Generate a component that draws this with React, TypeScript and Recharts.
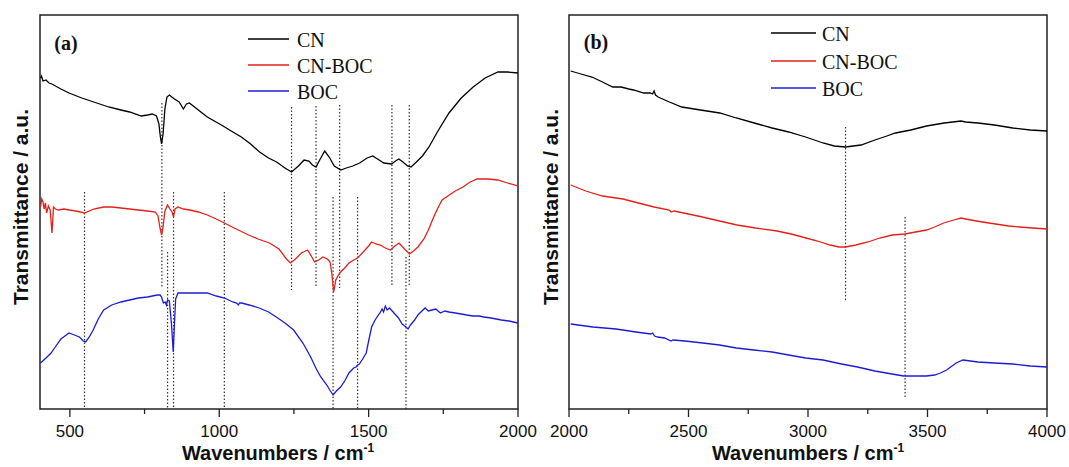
import React from "react";
import { LineChart, Line, XAxis, YAxis, ReferenceArea, ReferenceLine } from "recharts";

// ---------- Panel (a): 400-2000 cm-1, offset transmittance (a.u.) ----------
const CN_A: [number, number][] = [
  [402, 331], [405, 333], [410, 328], [420, 329], [430, 326], [440, 325], [470, 320], [497, 316], [540, 311], [590, 306],
  [630, 302], [671, 299], [700, 297], [739, 293], [760, 294], [776, 295], [790, 293], [798, 285],
  [803, 272], [807, 265], [812, 275], [818, 300], [825, 312], [833, 314], [850, 310], [866, 307],
  [880, 300], [890, 305], [900, 306], [930, 299], [960, 292], [1007, 284], [1040, 278], [1074, 272],
  [1105, 265], [1135, 257], [1165, 251], [1192, 247], [1220, 241], [1242, 237], [1265, 243], [1284, 249],
  [1300, 248], [1312, 244], [1324, 242], [1338, 250], [1353, 258], [1368, 252], [1385, 243], [1407, 239],
  [1425, 241], [1447, 243], [1470, 246], [1495, 251], [1514, 253], [1535, 249], [1551, 246], [1577, 245],
  [1590, 248], [1601, 250], [1615, 247], [1630, 243], [1642, 242], [1660, 247], [1680, 253], [1702, 262],
  [1730, 277], [1769, 296], [1810, 311], [1850, 322], [1890, 331], [1933, 337], [1965, 337], [2000, 336],
];
const CNBOC_A: [number, number][] = [
  [402, 202], [406, 210], [410, 207], [414, 200], [418, 206], [422, 196], [428, 203], [434, 199],
  [438, 184], [440, 176], [443, 190], [445, 202], [452, 200], [462, 199], [480, 200], [497, 199],
  [520, 198], [549, 196], [580, 200], [613, 202], [640, 202], [671, 201], [700, 200], [729, 199],
  [760, 198], [786, 197], [795, 193], [801, 182], [807, 174], [812, 182], [818, 198], [827, 204],
  [835, 200], [842, 197], [847, 192], [852, 200], [862, 202], [880, 200], [902, 199], [930, 197],
  [960, 194], [990, 190], [1017, 186], [1050, 181], [1098, 174], [1130, 170], [1168, 166], [1200, 160],
  [1225, 150], [1238, 146], [1255, 150], [1275, 156], [1296, 159], [1310, 152], [1319, 147], [1333, 149],
  [1347, 152], [1362, 150], [1371, 147], [1377, 135], [1383, 117], [1390, 129], [1403, 136], [1420, 141],
  [1434, 146], [1450, 149], [1463, 151], [1485, 158], [1500, 163], [1510, 167], [1525, 165], [1539, 164],
  [1556, 161], [1573, 159], [1588, 163], [1602, 166], [1620, 160], [1637, 155], [1650, 158], [1665, 162],
  [1685, 170], [1700, 179], [1715, 190], [1730, 200], [1746, 209], [1770, 214], [1790, 218], [1816, 222],
  [1840, 227], [1863, 230], [1900, 230], [1932, 229], [1965, 226], [2000, 223],
];
const BOC_A: [number, number][] = [
  [402, 46], [420, 51], [437, 56], [451, 62], [470, 70], [497, 76], [515, 74], [532, 72],
  [545, 68], [553, 67], [565, 72], [578, 79], [595, 90], [613, 99], [640, 104], [671, 107],
  [700, 109], [729, 111], [760, 112], [792, 114], [802, 114], [807, 112], [813, 106], [819, 107],
  [823, 104], [827, 109], [833, 108], [840, 85], [846, 57], [850, 85], [854, 110], [862, 116],
  [900, 116], [930, 116], [960, 116], [990, 113], [1018, 111], [1045, 107], [1058, 106], [1064, 104],
  [1068, 106], [1075, 106], [1100, 104], [1134, 101], [1165, 97], [1191, 92], [1220, 86], [1249, 79],
  [1280, 66], [1306, 52], [1325, 40], [1340, 32], [1360, 24], [1372, 18], [1381, 14], [1392, 18],
  [1406, 22], [1420, 28], [1434, 36], [1450, 41], [1458, 42], [1463, 44], [1469, 45], [1480, 50],
  [1492, 56], [1500, 68], [1510, 82], [1520, 88], [1530, 93], [1538, 96], [1545, 100], [1550, 97],
  [1556, 103], [1562, 99], [1570, 101], [1585, 96], [1600, 91], [1612, 85], [1625, 82], [1632, 80],
  [1640, 84], [1654, 89], [1665, 94], [1675, 97], [1689, 101], [1700, 98], [1712, 99], [1725, 100],
  [1740, 96], [1755, 98], [1769, 97], [1790, 96], [1810, 95], [1828, 94], [1850, 93], [1870, 93],
  [1886, 92], [1910, 91], [1944, 89], [1970, 88], [2000, 86],
];

// ---------- Panel (b): 2000-4000 cm-1 ----------
const CN_B: [number, number][] = [
  [2007, 338], [2050, 335], [2096, 332], [2140, 327], [2183, 322], [2218, 322], [2250, 320], [2270, 319],
  [2313, 316], [2340, 316], [2350, 315], [2356, 318], [2362, 314], [2373, 312], [2420, 307], [2472, 302],
  [2550, 299], [2631, 296], [2700, 291], [2775, 286], [2850, 281], [2919, 277], [2990, 272], [3063, 266],
  [3110, 263], [3157, 262], [3222, 264], [3280, 269], [3330, 273], [3366, 276], [3430, 279], [3496, 283],
  [3570, 286], [3640, 288], [3660, 287], [3711, 286], [3780, 284], [3857, 281], [3930, 279], [4000, 278],
];
const CNBOC_B: [number, number][] = [
  [2007, 224], [2070, 218], [2140, 213], [2226, 210], [2290, 206], [2356, 202], [2420, 199], [2427, 197],
  [2440, 198], [2500, 195], [2558, 192], [2630, 188], [2703, 184], [2780, 181], [2870, 178], [2930, 175],
  [2992, 171], [3040, 168], [3092, 164], [3130, 162], [3157, 162], [3200, 164], [3251, 167], [3300, 171],
  [3352, 174], [3406, 175], [3450, 177], [3496, 179], [3530, 182], [3568, 186], [3610, 189], [3640, 191],
  [3660, 190], [3682, 189], [3730, 187], [3785, 185], [3840, 183], [3886, 182], [3940, 181], [4000, 180],
];
const BOC_B: [number, number][] = [
  [2007, 85], [2100, 82], [2197, 80], [2280, 77], [2342, 75], [2350, 76], [2358, 73], [2370, 72],
  [2400, 71], [2427, 68], [2435, 69], [2485, 68], [2560, 66], [2630, 64], [2700, 61], [2774, 59],
  [2850, 57], [2919, 54], [2990, 51], [3063, 49], [3140, 45], [3207, 42], [3280, 38], [3351, 35],
  [3400, 33], [3423, 33], [3460, 33], [3496, 33], [3530, 34], [3554, 36], [3580, 39], [3597, 42],
  [3620, 46], [3648, 49], [3680, 48], [3711, 47], [3780, 46], [3857, 45], [3930, 43], [4000, 42],
];

// Dotted marker lines: [wavenumber, top, bottom]
const MARKS_A: [number, number, number][] = [
  [549, 217, 0], [808, 306, 122], [827, 157, 0], [847, 217, 0], [1017, 217, 0],
  [1242, 302, 119], [1324, 303, 121], [1381, 212, 0], [1403, 304, 121], [1463, 212, 0],
  [1578, 304, 122], [1636, 304, 122], [1625, 152, 0],
];
const MARKS_B: [number, number, number][] = [
  [3157, 282, 109], [3406, 192, 12],
];

const TICKS_A = [500, 750, 1000, 1250, 1500, 1750, 2000];
const TICKS_B = [2000, 2250, 2500, 2750, 3000, 3250, 3500, 3750, 4000];
const SERIES_NAMES = ["CN", "CN-BOC", "BOC"];
const SERIES_COLORS = ["#000000", "#e3201b", "#1c1cd4"];

const toPts = (arr: [number, number][]) => arr.map(([x, y]) => ({ x, y }));

const AxisTick = (props: any) => {
  const { x, y, payload } = props;
  const major = payload.value % 500 === 0;
  return (
    <g>
      <line x1={x} x2={x} y1={y} y2={y + (major ? 8 : 5)} stroke="#222" strokeWidth={1.3} />
      {major && (
        <text x={x} y={y + 22} textAnchor="middle" dominantBaseline="central" fontSize={17}
          fontFamily="'Liberation Sans', Arial, sans-serif" fill="#111">
          {payload.value}
        </text>
      )}
    </g>
  );
};

const Panel = ({ series, marks, domain, ticks, left }: any) => (
  <div style={{ position: "absolute", left, top: 0 }}>
    <LineChart width={540} height={467} margin={{ top: 15, right: 22, bottom: 28, left: 40 }}>
      <XAxis dataKey="x" type="number" domain={domain} ticks={ticks} interval={0} allowDataOverflow
        axisLine={false} tickLine={false} tickSize={0} tickMargin={0} height={30} tick={<AxisTick />} />
      <YAxis type="number" domain={[0, 394]} hide allowDataOverflow />
      <ReferenceArea x1={domain[0]} x2={domain[1]} y1={0} y2={394} fill="none" stroke="#222"
        strokeWidth={1.5} ifOverflow="visible" />
      {marks.map(([wx, top, bot]: [number, number, number], i: number) => (
        <ReferenceLine key={i} segment={[{ x: wx, y: top }, { x: wx, y: bot }]} stroke="#333"
          strokeWidth={1.2} strokeDasharray="1.5 2" ifOverflow="visible" />
      ))}
      {series.map((s: [number, number][], i: number) => (
        <Line key={i} data={toPts(s)} dataKey="y" type="linear" stroke={SERIES_COLORS[i]}
          strokeWidth={1.3} dot={false} activeDot={false} isAnimationActive={false} />
      ))}
    </LineChart>
  </div>
);

const LegendBox = ({ x0, x1, tx, rows }: any) => (
  <svg width={1069} height={467} style={{ position: "absolute", left: 0, top: 0, pointerEvents: "none" }}>
    {SERIES_NAMES.map((n, i) => (
      <g key={n}>
        <line x1={x0} x2={x1} y1={rows[i] - 1} y2={rows[i] - 1} stroke={SERIES_COLORS[i]} strokeWidth={1.3} />
        <text x={tx} y={rows[i]} dominantBaseline="central" fontSize={20}
          fontFamily="'Liberation Serif', 'Times New Roman', serif" fill="#111">{n}</text>
      </g>
    ))}
  </svg>
);

const TextAt = ({ x, y, children, rotate, style }: any) => (
  <div style={{
    position: "absolute", left: x, top: y, whiteSpace: "nowrap",
    transform: `translate(-50%, -50%)${rotate ? " rotate(-90deg)" : ""}`, ...style,
  }}>{children}</div>
);

const titleStyle = { fontFamily: "'Liberation Sans', Arial, sans-serif", fontWeight: 700, fontSize: 20, color: "#111" };
const panelLabelStyle = { fontFamily: "'Liberation Serif', 'Times New Roman', serif", fontWeight: 700, fontSize: 20, color: "#111" };

export default function App() {
  return (
    <div style={{ position: "absolute", left: 0, top: 0, width: 1069, height: 467, background: "#fff", overflow: "hidden" }}>
      <Panel series={[CN_A, CNBOC_A, BOC_A]} marks={MARKS_A} domain={[400, 2000]} ticks={TICKS_A} left={0} />
      <Panel series={[CN_B, CNBOC_B, BOC_B]} marks={MARKS_B} domain={[2000, 4000]} ticks={TICKS_B} left={529} />
      <LegendBox x0={248} x1={289} tx={297} rows={[40, 66, 92]} />
      <LegendBox x0={771} x1={816} tx={822} rows={[34, 62, 89]} />
      <TextAt x={66} y={43} style={panelLabelStyle}>(a)</TextAt>
      <TextAt x={596} y={42} style={panelLabelStyle}>(b)</TextAt>
      <TextAt x={21} y={207} rotate style={{ ...titleStyle, fontSize: 21 }}>Transmittance / a.u.</TextAt>
      <TextAt x={551} y={207} rotate style={{ ...titleStyle, fontSize: 21 }}>Transmittance / a.u.</TextAt>
      <TextAt x={278} y={453} style={titleStyle}>Wavenumbers / cm<sup style={{ fontSize: 12 }}>-1</sup></TextAt>
      <TextAt x={808} y={453} style={titleStyle}>Wavenumbers / cm<sup style={{ fontSize: 12 }}>-1</sup></TextAt>
    </div>
  );
}
